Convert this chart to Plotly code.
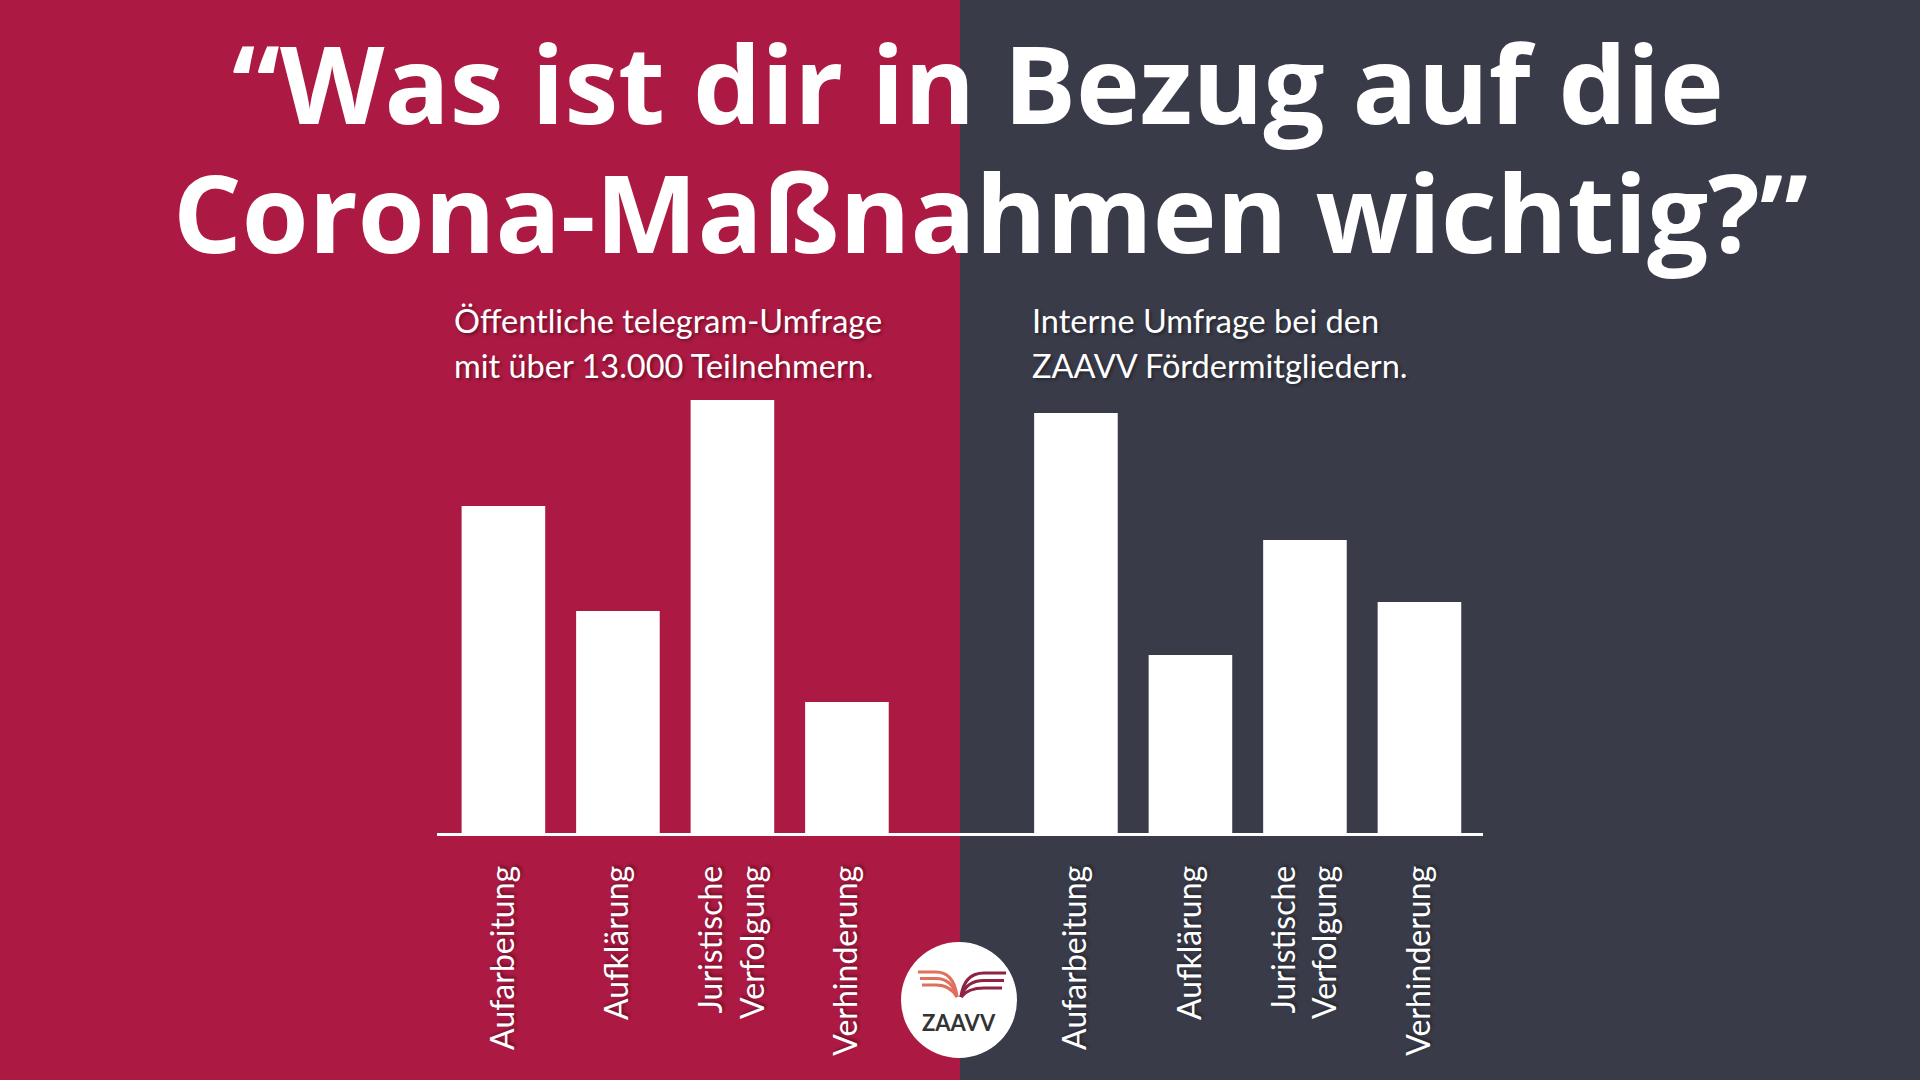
import plotly.graph_objects as go

W, H = 1920, 1080

# ---- data ----
categories = ["Aufarbeitung", "Aufklärung", "Juristische<br>Verfolgung", "Verhinderung"]
telegram_values = [32.7, 22.2, 43.3, 13.1]     # Öffentliche telegram-Umfrage
members_values = [42.0, 17.8, 29.3, 23.1]      # ZAAVV Fördermitglieder

title_lines = ["“Was ist dir in Bezug auf die", "Corona-Maßnahmen wichtig?”"]
subtitle_left = ["Öffentliche telegram-Umfrage", "mit über 13.000 Teilnehmern."]
subtitle_right = ["Interne Umfrage bei den", "ZAAVV Fördermitgliedern."]

CRIMSON = "#AC1942"
SLATE = "#393B49"
WHITE = "#FFFFFF"

left_x = list(range(len(categories)))
right_x = [i + len(categories) + 1 for i in range(len(categories))]


def px(x):
    return x / W


def py(y):
    return 1 - y / H


fig = go.Figure()
fig.add_trace(go.Bar(x=left_x, y=telegram_values, width=0.73,
                     marker=dict(color=WHITE, line=dict(width=0)),
                     hoverinfo="skip", showlegend=False))
fig.add_trace(go.Bar(x=right_x, y=members_values, width=0.73,
                     marker=dict(color=WHITE, line=dict(width=0)),
                     hoverinfo="skip", showlegend=False))

shapes = []
# backgrounds
shapes.append(dict(type="rect", xref="paper", yref="paper", x0=0, x1=0.5, y0=0, y1=1,
                   fillcolor=CRIMSON, line=dict(width=0), layer="below"))
shapes.append(dict(type="rect", xref="paper", yref="paper", x0=0.5, x1=1, y0=0, y1=1,
                   fillcolor=SLATE, line=dict(width=0), layer="below"))

# logo
cx, cy, r = 959, 1000, 58
shapes.append(dict(type="circle", xref="paper", yref="paper",
                   x0=px(cx - r), x1=px(cx + r), y0=py(cy + r), y1=py(cy - r),
                   fillcolor=WHITE, line=dict(width=0), layer="above"))
left_ys = [972, 978.5, 985]
right_ys = [973, 980.5, 988]
for i, yy in enumerate(left_ys):
    x_start = 918 + i * 2
    path = (f"M {px(x_start)},{py(yy)} L {px(936)},{py(yy)} "
            f"Q {px(954 - i * 2)},{py(yy)} {px(957)},{py(997)}")
    shapes.append(dict(type="path", xref="paper", yref="paper", path=path,
                       line=dict(color="#E0705E", width=3.2), layer="above"))
for i, yy in enumerate(right_ys):
    x_end = 1006 - i * 2
    path = (f"M {px(961)},{py(997)} Q {px(964 + i * 2)},{py(yy)} {px(984)},{py(yy)} "
            f"L {px(x_end)},{py(yy)}")
    shapes.append(dict(type="path", xref="paper", yref="paper", path=path,
                       line=dict(color="#8F2344", width=3.2), layer="above"))

shadow = "2px 2px 3px rgba(0,0,0,0.35)"
annotations = []
title_font = dict(family="Open Sans", size=108, color=WHITE, weight=700)
annotations.append(dict(text=title_lines[0], xref="paper", yref="paper",
                        x=px(978), y=py(82), xanchor="center", yanchor="middle",
                        showarrow=False, font=title_font))
annotations.append(dict(text=title_lines[1], xref="paper", yref="paper",
                        x=px(990), y=py(211), xanchor="center", yanchor="middle",
                        showarrow=False, font=title_font))
sub_font = dict(family="Lato", size=32.5, color=WHITE, shadow=shadow)
for lines, x0 in ((subtitle_left, 452), (subtitle_right, 1030)):
    for j, (line, yc) in enumerate(zip(lines, (320, 365))):
        annotations.append(dict(text=line, xref="paper", yref="paper",
                                x=px(x0), y=py(yc), xanchor="left", yanchor="middle",
                                align="left", showarrow=False, font=sub_font))
annotations.append(dict(text="ZAAVV", xref="paper", yref="paper",
                        x=px(cx), y=py(1022), xanchor="center", yanchor="middle",
                        showarrow=False, font=dict(family="Lato", size=22, color="#333333", weight=700)))

fig.update_layout(
    width=W, height=H,
    margin=dict(l=0, r=0, t=0, b=0),
    paper_bgcolor=SLATE, plot_bgcolor="rgba(0,0,0,0)",
    bargap=0.27,
    shapes=shapes, annotations=annotations,
    xaxis=dict(domain=[px(437), px(1483)], range=[-0.58, 8.555],
               tickvals=left_x + right_x, ticktext=categories + categories,
               tickangle=-90, showgrid=False, zeroline=False,
               showline=True, linecolor=WHITE, linewidth=3,
               ticks="", ticklabelstandoff=17, automargin=False,
               tickfont=dict(family="Lato", size=32, color=WHITE, shadow=shadow)),
    yaxis=dict(domain=[py(833), py(380)], range=[0, 45.3],
               showgrid=False, zeroline=False, showticklabels=False,
               showline=False, automargin=False),
)

fig.write_html("out.html")
